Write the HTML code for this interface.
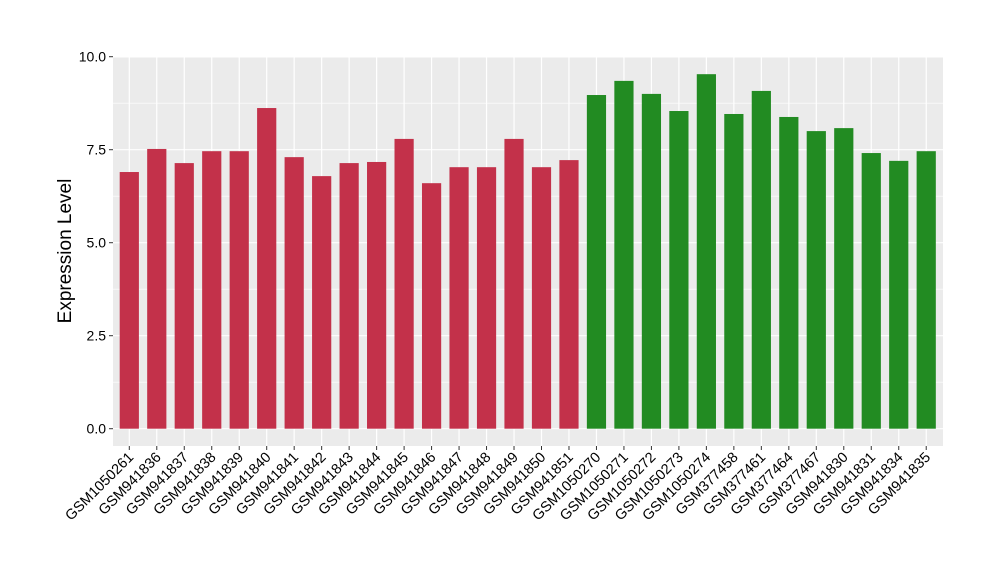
<!DOCTYPE html>
<html><head><meta charset="utf-8"><style>body{margin:0;background:#fff}svg{display:block}</style></head>
<body>
<svg id="s" width="1000" height="580" xmlns="http://www.w3.org/2000/svg" font-family="Liberation Sans, Arial, sans-serif"></svg>
<script>
var s=document.getElementById('s');
var names=["GSM1050261","GSM941836","GSM941837","GSM941838","GSM941839","GSM941840","GSM941841","GSM941842","GSM941843","GSM941844","GSM941845","GSM941846","GSM941847","GSM941848","GSM941849","GSM941850","GSM941851","GSM1050270","GSM1050271","GSM1050272","GSM1050273","GSM1050274","GSM377458","GSM377461","GSM377464","GSM377467","GSM941830","GSM941831","GSM941834","GSM941835"];
var vals=[6.9,7.52,7.14,7.46,7.46,8.62,7.3,6.79,7.14,7.17,7.79,6.6,7.03,7.03,7.79,7.03,7.22,8.97,9.35,9.0,8.54,9.53,8.46,9.08,8.38,8.0,8.08,7.41,7.2,7.46];
var L=113,R=943,T=57.5,B=446,y0=428.7,k=37.2,dx=27.48,x0=129.3;
var h='<rect x="'+L+'" y="'+T+'" width="'+(R-L)+'" height="'+(B-T)+'" fill="#ebebeb"/>';
function Y(v){return y0-v*k;}
for(var v=1.25;v<10;v+=2.5)h+='<line x1="'+L+'" x2="'+R+'" y1="'+Y(v)+'" y2="'+Y(v)+'" stroke="#fff" stroke-width="0.6"/>';
for(var v=0;v<=10;v+=2.5)h+='<line x1="'+L+'" x2="'+R+'" y1="'+Y(v)+'" y2="'+Y(v)+'" stroke="#fff" stroke-width="1.2"/>';
for(var i=0;i<30;i++){var x=x0+i*dx;h+='<line x1="'+x+'" x2="'+x+'" y1="'+T+'" y2="'+B+'" stroke="#fff" stroke-width="1.2"/>';}
for(var i=0;i<30;i++){var x=x0+i*dx,w=19.2;h+='<rect x="'+(x-w/2)+'" y="'+Y(vals[i])+'" width="'+w+'" height="'+(vals[i]*k)+'" fill="'+(i<17?'#c3314a':'#228b22')+'"/>';
h+='<line x1="'+x+'" x2="'+x+'" y1="'+B+'" y2="'+(B+4)+'" stroke="#333"/>';
h+='<text transform="translate('+(x+5)+','+(B+12)+') rotate(-45)" text-anchor="end" font-size="14.5" fill="#000">'+names[i]+'</text>';}
var labs=["0.0","2.5","5.0","7.5","10.0"];
for(var j=0;j<5;j++){var y=Y(j*2.5);h+='<line x1="'+(L-4)+'" x2="'+L+'" y1="'+y+'" y2="'+y+'" stroke="#333"/><text x="'+(L-7)+'" y="'+(y+5)+'" text-anchor="end" font-size="14" fill="#000">'+labs[j]+'</text>';}
h+='<text transform="translate(71,251) rotate(-90)" text-anchor="middle" font-size="19" fill="#000">Expression Level</text>';
s.innerHTML=h;
</script>
</body></html>
